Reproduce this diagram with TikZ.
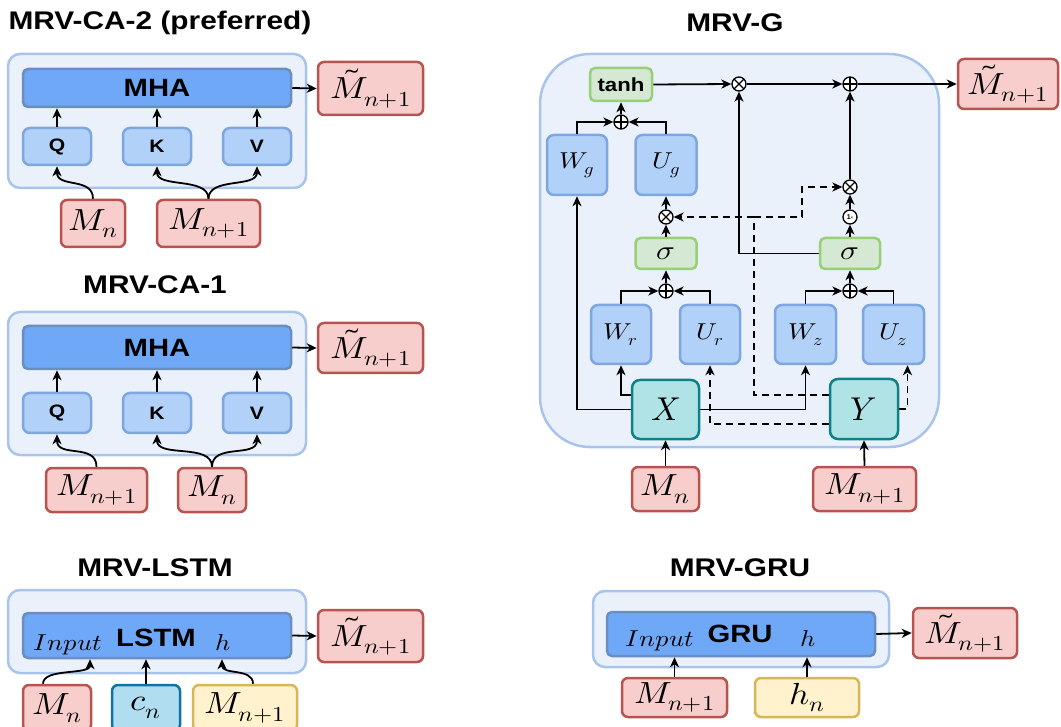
\documentclass[tikz,border=0pt]{standalone}
\usepackage{fontspec}
\usepackage{unicode-math}
\setmathfont{Latin Modern Math}
\newfontfamily\hv{Liberation Sans}
\usepackage{graphicx}
\usetikzlibrary{arrows.meta,calc}
\definecolor{panelfill}{HTML}{EBF1FB}
\definecolor{panelborder}{HTML}{A9C4EB}
\definecolor{barfill}{HTML}{70A8F8}
\definecolor{barborder}{HTML}{6C8EBF}
\definecolor{lboxfill}{HTML}{B2D1F8}
\definecolor{lboxborder}{HTML}{7EA6E0}
\definecolor{redfill}{HTML}{F8CECC}
\definecolor{redborder}{HTML}{B85450}
\definecolor{greenfill}{HTML}{D5E8D4}
\definecolor{greenborder}{HTML}{97D077}
\definecolor{tealfill}{HTML}{B0E3E6}
\definecolor{tealborder}{HTML}{0E8088}
\definecolor{yellowfill}{HTML}{FFF2CC}
\definecolor{yellowborder}{HTML}{D6B656}
\definecolor{cyanfill}{HTML}{B1DDF0}
\definecolor{cyanborder}{HTML}{10739E}
\newcommand{\sx}[1]{\scalebox{1.15}[1]{#1}}
\newcommand{\sbx}[1]{\scalebox{1.17}[1]{#1}}
\begin{document}
\begin{tikzpicture}[x=1pt,y=-1pt,
  panel/.style={draw=panelborder, fill=panelfill, line width=2.5pt, rounded corners=12pt, inner sep=0pt},
  bar/.style={draw=barborder, fill=barfill, line width=2.5pt, rounded corners=5pt, inner sep=0pt},
  lbox/.style={draw=lboxborder, fill=lboxfill, line width=2.5pt, rounded corners=7pt, inner sep=0pt},
  rbox/.style={draw=redborder, fill=redfill, line width=2.5pt, rounded corners=6pt, inner sep=0pt},
  gbox/.style={draw=greenborder, fill=greenfill, line width=2.5pt, rounded corners=5pt, inner sep=0pt},
  tbox/.style={draw=tealborder, fill=tealfill, line width=2.5pt, rounded corners=8pt, inner sep=0pt},
  ybox/.style={draw=yellowborder, fill=yellowfill, line width=2.5pt, rounded corners=6pt, inner sep=0pt},
  cbox/.style={draw=cyanborder, fill=cyanfill, line width=2.5pt, rounded corners=6pt, inner sep=0pt},
  ttl/.style={font=\hv\bfseries\fontsize{25.5}{27}\selectfont, inner sep=0pt},
  big/.style={font=\hv\bfseries\fontsize{25}{27}\selectfont},
  small/.style={font=\hv\bfseries\fontsize{18}{20}\selectfont},
  mbig/.style={font=\fontsize{30.5}{31}\selectfont},
  mxy/.style={font=\fontsize{33}{34}\selectfont},
  mmed/.style={font=\fontsize{23}{24}\selectfont},
  msig/.style={font=\fontsize{27}{28}\selectfont},
  lab/.style={inner sep=0pt, anchor=base},
  conn/.style={line width=1.8pt},
  dsh/.style={dash pattern=on 7pt off 5pt},
  arr/.style={-{Stealth[length=10pt,width=9pt,inset=3pt]}, line width=1.8pt},
  opl/.style={circle, draw, fill=white, line width=1.3pt, minimum size=14pt, inner sep=0pt,
    path picture={\draw[line width=1.1pt] (path picture bounding box.north) -- (path picture bounding box.south)
      (path picture bounding box.west) -- (path picture bounding box.east);}},
  otm/.style={circle, draw, fill=white, line width=1.3pt, minimum size=14pt, inner sep=0pt,
    path picture={\draw[line width=1.1pt] (path picture bounding box.north west) -- (path picture bounding box.south east)
      (path picture bounding box.south west) -- (path picture bounding box.north east);}},
  omin/.style={circle, draw, fill=white, line width=1.3pt, minimum size=14pt, inner sep=0pt, font=\hv\bfseries\fontsize{7}{7}\selectfont}
]
\useasboundingbox (0,0) rectangle (1061,727);

% ================= MRV-CA-2 =================
\node[ttl] (t1) at (160,23) {\sbx{MRV-CA-2 (preferred)}};
\node[panel, minimum width=298pt, minimum height=134pt] (p1) at (157,121) {};
\node[bar, big, minimum width=268pt, minimum height=38pt] (mha1) at (157,88) {\sbx{MHA}};
\node[lbox, small, minimum width=68pt, minimum height=37pt] (q1) at (57,146.5) {\sbx{Q}};
\node[lbox, small, minimum width=68pt, minimum height=37pt] (k1) at (157,146.5) {\sbx{K}};
\node[lbox, small, minimum width=68pt, minimum height=37pt] (v1) at (257,146.5) {\sbx{V}};
\node[rbox, mbig, minimum width=64pt, minimum height=47pt] (mn1) at (93,223.5) {\sx{$M_n$}};
\node[rbox, mbig, minimum width=103pt, minimum height=47pt] (mnp1) at (208.5,223.5) {\sx{$M_{n+1}$}};
\node[rbox, mbig, minimum width=105pt, minimum height=53pt] (mt1) at (370.5,88.5) {\sx{$\tilde{M}_{n+1}$}};
\draw[arr] (q1.north) -- (q1.north |- mha1.south);
\draw[arr] (k1.north) -- (k1.north |- mha1.south);
\draw[arr] (v1.north) -- (v1.north |- mha1.south);
\draw[arr] (mn1.north) .. controls +(0,-22) and +(0,22) .. (q1.south);
\draw[arr] (mnp1.north) .. controls +(0,-22) and +(0,22) .. (k1.south);
\draw[arr] (mnp1.north) .. controls +(0,-22) and +(0,22) .. (v1.south);
\draw[arr] (mha1.east) -- (mt1.west);

% ================= MRV-CA-1 =================
\node[ttl] (t2) at (155,285) {\sbx{MRV-CA-1}};
\node[panel, minimum width=298pt, minimum height=143pt] (p2) at (157,383.5) {};
\node[bar, big, minimum width=268pt, minimum height=43pt] (mha2) at (157,347.5) {\sbx{MHA}};
\node[lbox, small, minimum width=68pt, minimum height=40pt] (q2) at (57,413) {\sbx{Q}};
\node[lbox, small, minimum width=68pt, minimum height=40pt] (k2) at (157,413) {\sbx{K}};
\node[lbox, small, minimum width=68pt, minimum height=40pt] (v2) at (257,413) {\sbx{V}};
\node[rbox, mbig, minimum width=101pt, minimum height=44pt] (mnp2) at (96.5,490) {\sx{$M_{n+1}$}};
\node[rbox, mbig, minimum width=68pt, minimum height=44pt] (mn2) at (212,490) {\sx{$M_n$}};
\node[rbox, mbig, minimum width=105pt, minimum height=50pt] (mt2) at (370.5,348) {\sx{$\tilde{M}_{n+1}$}};
\draw[arr] (q2.north) -- (q2.north |- mha2.south);
\draw[arr] (k2.north) -- (k2.north |- mha2.south);
\draw[arr] (v2.north) -- (v2.north |- mha2.south);
\draw[arr] (mnp2.north) .. controls +(0,-24) and +(0,24) .. (q2.south);
\draw[arr] (mn2.north) .. controls +(0,-24) and +(0,24) .. (k2.south);
\draw[arr] (mn2.north) .. controls +(0,-24) and +(0,24) .. (v2.south);
\draw[arr] (mha2.east) -- (mt2.west);

% ================= MRV-LSTM =================
\node[ttl] (t3) at (155,568) {\sbx{MRV-LSTM}};
\node[panel, minimum width=298pt, minimum height=83pt] (p3) at (157,631.5) {};
\node[bar, minimum width=268pt, minimum height=45pt] (bar3) at (157,635.5) {};
\node[lab, mmed] (in3) at (68,650) {\sx{$Input$}};
\node[lab, big] (ls3) at (156,646) {\sbx{LSTM}};
\node[lab, mmed] (h3) at (223,650) {\sx{$h$}};
\node[rbox, mbig, minimum width=68pt, minimum height=46pt] (mn3) at (57,708) {\sx{$M_n$}};
\node[cbox, mbig, minimum width=68pt, minimum height=46pt] (cn3) at (146,708) {\sx{$c_n$}};
\node[ybox, mbig, minimum width=104pt, minimum height=46pt] (mnp3) at (245,708) {\sx{$M_{n+1}$}};
\node[rbox, mbig, minimum width=105pt, minimum height=52pt] (mt3) at (370.5,636) {\sx{$\tilde{M}_{n+1}$}};
\draw[arr] ([xshift=-14pt]mn3.north) .. controls +(0,-16) and +(0,16) .. ([xshift=-67pt]bar3.south);
\draw[arr] (cn3.north) -- (cn3.north |- bar3.south);
\draw[arr] ([xshift=8pt]mnp3.north) .. controls +(0,-16) and +(0,16) .. ([xshift=65pt]bar3.south);
\draw[arr] (bar3.east) -- (mt3.west);

% ================= MRV-GRU =================
\node[ttl] (t4) at (740,568) {\sbx{MRV-GRU}};
\node[panel, minimum width=296pt, minimum height=76pt] (p4) at (741,629) {};
\node[bar, minimum width=268pt, minimum height=44pt] (bar4) at (741,634) {};
\node[lab, mmed] (in4) at (660,646) {\sx{$Input$}};
\node[lab, big] (gr4) at (740,642) {\sbx{GRU}};
\node[lab, mmed] (h4) at (808,646) {\sx{$h$}};
\node[rbox, mbig, minimum width=105pt, minimum height=39pt] (mnp4) at (674.5,697.5) {\sx{$M_{n+1}$}};
\node[ybox, mbig, minimum width=104pt, minimum height=39pt] (hn4) at (807,697.5) {\sx{$h_n$}};
\node[rbox, mbig, minimum width=104pt, minimum height=50pt] (mt4) at (965,633) {\sx{$\tilde{M}_{n+1}$}};
\draw[arr] (mnp4.north) -- (mnp4.north |- bar4.south);
\draw[arr] (hn4.north) -- (hn4.north |- bar4.south);
\draw[arr] (bar4.east) -- (mt4.west);

% ================= MRV-G =================
\node[ttl] (t5) at (735,23) {\sbx{MRV-G}};
\node[panel, rounded corners=50pt, minimum width=399pt, minimum height=393pt] (p5) at (739.5,250.5) {};
\node[gbox, font=\hv\bfseries\fontsize{19}{21}\selectfont, minimum width=62pt, minimum height=33pt] (tanh) at (621,84.5) {\sbx{tanh}};
\node[opl] (op1) at (621,122) {};
\node[lbox, mmed, minimum width=60pt, minimum height=60pt] (wg) at (577,165) {\sx{$W_g$}};
\node[lbox, mmed, minimum width=61pt, minimum height=60pt] (ug) at (666,165) {\sx{$U_g$}};
\node[otm] (ot1) at (666,217) {};
\node[gbox, msig, minimum width=61pt, minimum height=31pt] (sig1) at (666,253.5) {\sx{$\sigma$}};
\node[opl] (op2) at (666,291) {};
\node[lbox, mmed, minimum width=60pt, minimum height=59pt] (wr) at (621,334.5) {\sx{$W_r$}};
\node[lbox, mmed, minimum width=60pt, minimum height=59pt] (ur) at (710,334.5) {\sx{$U_r$}};
\node[tbox, mxy, minimum width=67pt, minimum height=59pt] (X) at (665.5,409.5) {$X$};
\node[rbox, mbig, minimum width=67pt, minimum height=44pt] (mn5) at (665.5,489) {\sx{$M_n$}};
\node[otm] (ot2) at (739,84) {};
\node[opl] (op3) at (850,84) {};
\node[rbox, mbig, minimum width=100pt, minimum height=50pt] (mt5) at (1008,84) {\sx{$\tilde{M}_{n+1}$}};
\node[otm] (ot3) at (850,187) {};
\node[omin] (om) at (850,217) {1-};
\node[gbox, msig, minimum width=60pt, minimum height=31pt] (sig2) at (850,253.5) {\sx{$\sigma$}};
\node[opl] (op4) at (850,291) {};
\node[lbox, mmed, minimum width=61pt, minimum height=59pt] (wz) at (805.5,334.5) {\sx{$W_z$}};
\node[lbox, mmed, minimum width=61pt, minimum height=59pt] (uz) at (893.5,334.5) {\sx{$U_z$}};
\node[tbox, mxy, minimum width=68pt, minimum height=60pt] (Y) at (864,409) {$Y$};
\node[rbox, mbig, minimum width=103pt, minimum height=44pt] (mnp5) at (864.5,489) {\sx{$M_{n+1}$}};
\coordinate (dj) at (754,217);
\coordinate (dk) at (802,217);

% solid connectors
\draw[arr] (wg.north) |- (op1.west);
\draw[arr] (ug.north) |- (op1.east);
\draw[arr] (op1.north) -- (tanh.south);
\draw[arr] (tanh.east) -- (ot2.west);
\draw[arr] (sig2.west) -| (ot2.south);
\draw[arr] (ot2.east) -- (op3.west);
\draw[arr] (op3.east) -- (mt5.west);
\draw[arr] (ot3.north) -- (op3.south);
\draw[arr] (om.north) -- (ot3.south);
\draw[arr] (sig2.north) -- (om.south);
\draw[arr] (op4.north) -- (sig2.south);
\draw[arr] (wz.north) |- (op4.west);
\draw[arr] (uz.north) |- (op4.east);
\draw[arr] (sig1.north) -- (ot1.south);
\draw[arr] (ot1.north) -- (ug.south);
\draw[arr] (op2.north) -- (sig1.south);
\draw[arr] (wr.north) |- (op2.west);
\draw[arr] (ur.north) |- (op2.east);
\draw[arr] ([yshift=14.5pt]X.west) -| (wr.south);
\draw[arr] (X.west) -| (wg.south);
\draw[arr] (X.east) -| (wz.south);
\draw[arr] (mn5.north) -- (X.south);
\draw[arr] (mnp5.north) -- (Y.south);
% dashed connectors
\draw[arr, dsh] ([yshift=-15pt]Y.west) -| (ur.south);
\draw[arr, dsh] (Y.east) -| ([xshift=14pt]uz.south);
\draw[conn, dsh] ([yshift=14pt]Y.west) -| (dj);
\draw[arr, dsh] (dj) -- (ot1.east);
\draw[arr, dsh] (dj) -- (dk) |- (ot3.west);
\end{tikzpicture}
\end{document}
